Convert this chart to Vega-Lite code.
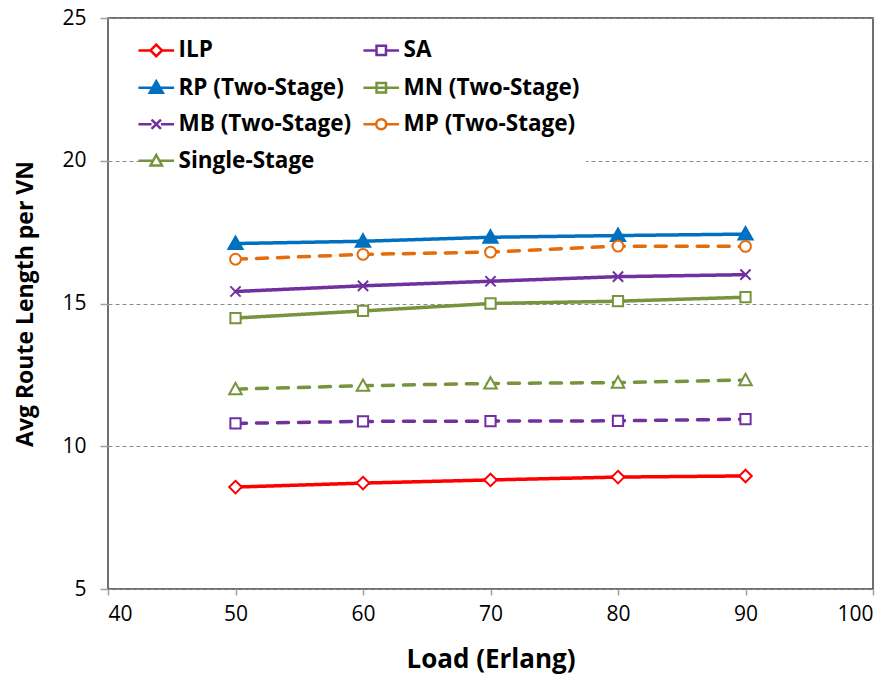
{
  "$schema": "https://vega.github.io/schema/vega-lite/v6.json",
  "width": 765,
  "height": 571,
  "autosize": "none",
  "padding": {"left": 108, "top": 18, "right": 22, "bottom": 91},
  "background": "white",
  "config": {
    "view": {"stroke": "#404040", "strokeWidth": 1.5},
    "font": "Open Sans",
    "legend": {
      "title": null,
      "orient": "none",
      "legendX": 31,
      "legendY": 15,
      "columns": 2,
      "fillColor": "white",
      "padding": 6,
      "rowPadding": 13.5,
      "columnPadding": 6,
      "labelFont": "Open Sans",
      "labelFontSize": 22.5,
      "labelFontWeight": "bold",
      "labelColor": "black",
      "labelOffset": 11,
      "labelLimit": 400,
      "symbolSize": 110,
      "symbolStrokeWidth": 2.5
    }
  },
  "data": {
    "values": [
      {"series": "ILP", "load": 50, "value": 8.57},
      {"series": "ILP", "load": 60, "value": 8.71},
      {"series": "ILP", "load": 70, "value": 8.82},
      {"series": "ILP", "load": 80, "value": 8.92},
      {"series": "ILP", "load": 90, "value": 8.96},
      {"series": "SA", "load": 50, "value": 10.8},
      {"series": "SA", "load": 60, "value": 10.87},
      {"series": "SA", "load": 70, "value": 10.88},
      {"series": "SA", "load": 80, "value": 10.89},
      {"series": "SA", "load": 90, "value": 10.95},
      {"series": "RP (Two-Stage)", "load": 50, "value": 17.1},
      {"series": "RP (Two-Stage)", "load": 60, "value": 17.18},
      {"series": "RP (Two-Stage)", "load": 70, "value": 17.32},
      {"series": "RP (Two-Stage)", "load": 80, "value": 17.38},
      {"series": "RP (Two-Stage)", "load": 90, "value": 17.43},
      {"series": "MN (Two-Stage)", "load": 50, "value": 14.49},
      {"series": "MN (Two-Stage)", "load": 60, "value": 14.74},
      {"series": "MN (Two-Stage)", "load": 70, "value": 15.0},
      {"series": "MN (Two-Stage)", "load": 80, "value": 15.08},
      {"series": "MN (Two-Stage)", "load": 90, "value": 15.22},
      {"series": "MB (Two-Stage)", "load": 50, "value": 15.42},
      {"series": "MB (Two-Stage)", "load": 60, "value": 15.62},
      {"series": "MB (Two-Stage)", "load": 70, "value": 15.78},
      {"series": "MB (Two-Stage)", "load": 80, "value": 15.94},
      {"series": "MB (Two-Stage)", "load": 90, "value": 16.01},
      {"series": "MP (Two-Stage)", "load": 50, "value": 16.55},
      {"series": "MP (Two-Stage)", "load": 60, "value": 16.72},
      {"series": "MP (Two-Stage)", "load": 70, "value": 16.8},
      {"series": "MP (Two-Stage)", "load": 80, "value": 17.01},
      {"series": "MP (Two-Stage)", "load": 90, "value": 17.0},
      {"series": "Single-Stage", "load": 50, "value": 12.0},
      {"series": "Single-Stage", "load": 60, "value": 12.12},
      {"series": "Single-Stage", "load": 70, "value": 12.2},
      {"series": "Single-Stage", "load": 80, "value": 12.23},
      {"series": "Single-Stage", "load": 90, "value": 12.32}
    ]
  },
  "encoding": {
    "x": {
      "field": "load", "type": "quantitative",
      "scale": {"domain": [40, 100], "nice": false, "zero": false},
      "axis": {
        "values": [40, 50, 60, 70, 80, 90, 100],
        "title": "Load (Erlang)",
        "titleFont": "Open Sans", "titleFontSize": 26, "titleFontWeight": "bold", "titleColor": "black",
        "titlePadding": 22,
        "labelFont": "Open Sans", "labelFontSize": 21, "labelColor": "black", "labelPadding": 8,
        "grid": false, "domain": false,
        "tickSize": 6, "tickColor": "#a0a0a0", "tickWidth": 1.5
      }
    },
    "y": {
      "field": "value", "type": "quantitative",
      "scale": {"domain": [5, 25], "nice": false, "zero": false},
      "axis": {
        "values": [5, 10, 15, 20, 25],
        "title": "Avg Route Length per VN",
        "titleFont": "Open Sans", "titleFontSize": 23, "titleFontWeight": "bold", "titleColor": "black",
        "titlePadding": 24,
        "labelFont": "Open Sans", "labelFontSize": 21, "labelColor": "black", "labelPadding": 14,
        "grid": true, "gridColor": "#8c8c8c", "gridDash": [4, 3], "gridWidth": 1,
        "domain": false,
        "tickSize": 8, "tickColor": "#a0a0a0", "tickWidth": 1.5
      }
    }
  },
  "layer": [
    {
      "mark": {"type": "line", "strokeWidth": 3.5, "strokeCap": "round"},
      "encoding": {
        "color": {
          "field": "series", "type": "nominal", "legend": null,
          "scale": {
            "domain": ["ILP", "SA", "RP (Two-Stage)", "MN (Two-Stage)", "MB (Two-Stage)", "MP (Two-Stage)", "Single-Stage"],
            "range": ["#ff0000", "#7030a0", "#0070c0", "#77933c", "#7030a0", "#e46c0a", "#77933c"]
          }
        },
        "strokeDash": {
          "field": "series", "type": "nominal", "legend": null,
          "scale": {
            "domain": ["ILP", "SA", "RP (Two-Stage)", "MN (Two-Stage)", "MB (Two-Stage)", "MP (Two-Stage)", "Single-Stage"],
            "range": [[1, 0], [11, 10], [1, 0], [1, 0], [1, 0], [11, 10], [11, 10]]
          }
        }
      }
    },
    {
      "mark": {"type": "point", "filled": true, "opacity": 1, "size": 130, "strokeWidth": 2},
      "encoding": {
        "shape": {
          "field": "series", "type": "nominal", "legend": null,
          "scale": {
            "domain": ["ILP", "SA", "RP (Two-Stage)", "MN (Two-Stage)", "MB (Two-Stage)", "MP (Two-Stage)", "Single-Stage"],
            "range": [
              "M0,-1.1L1.1,0L0,1.1L-1.1,0Z",
              "M-0.9,-0.9H0.9V0.9H-0.9Z",
              "M0,-1.25L1.25,0.95L-1.25,0.95Z",
              "M-0.9,-0.9H0.9V0.9H-0.9Z",
              "M-0.9,-0.9L0.9,0.9M-0.9,0.9L0.9,-0.9",
              "M0.95,0A0.95,0.95 0 1,1 -0.95,0A0.95,0.95 0 1,1 0.95,0Z",
              "M0,-1.1L1.1,0.9L-1.1,0.9Z"
            ]
          }
        },
        "stroke": {
          "field": "series", "type": "nominal", "legend": null,
          "scale": {
            "domain": ["ILP", "SA", "RP (Two-Stage)", "MN (Two-Stage)", "MB (Two-Stage)", "MP (Two-Stage)", "Single-Stage"],
            "range": ["#ff0000", "#7030a0", "#0070c0", "#77933c", "#7030a0", "#e46c0a", "#77933c"]
          }
        },
        "fill": {
          "field": "series", "type": "nominal", "legend": null,
          "scale": {
            "domain": ["ILP", "SA", "RP (Two-Stage)", "MN (Two-Stage)", "MB (Two-Stage)", "MP (Two-Stage)", "Single-Stage"],
            "range": ["white", "white", "#0070c0", "white", "white", "white", "white"]
          }
        }
      }
    },
    {
      "transform": [{"filter": "datum.load > 1000"}],
      "mark": {"type": "point", "filled": true, "opacity": 1, "size": 110, "strokeWidth": 2.5},
      "encoding": {
        "shape": {
          "field": "series", "type": "nominal",
          "scale": {
            "domain": ["ILP", "RP (Two-Stage)", "MB (Two-Stage)", "Single-Stage", "SA", "MN (Two-Stage)", "MP (Two-Stage)"],
            "range": [
              "M-3.4,0H-1.1M1.1,0H3.4M0,-1.1L1.1,0L0,1.1L-1.1,0Z",
              "M-3.4,0H3.4M0,-1.25L1.25,0.95L-1.25,0.95Z",
              "M-3.4,0H-0.9M0.9,0H3.4M-0.9,-0.9L0.9,0.9M-0.9,0.9L0.9,-0.9",
              "M-3.4,0H-0.75M0.75,0H3.4M0,-1.1L1.1,0.9L-1.1,0.9Z",
              "M-3.4,0H-0.9M0.9,0H3.4M-0.9,-0.9H0.9V0.9H-0.9Z",
              "M-3.4,0H3.4M-0.9,-0.9H0.9V0.9H-0.9Z",
              "M-3.4,0H-0.95M0.95,0H3.4M0.95,0A0.95,0.95 0 1,1 -0.95,0A0.95,0.95 0 1,1 0.95,0Z"
            ]
          }
        },
        "stroke": {
          "field": "series", "type": "nominal",
          "scale": {
            "domain": ["ILP", "RP (Two-Stage)", "MB (Two-Stage)", "Single-Stage", "SA", "MN (Two-Stage)", "MP (Two-Stage)"],
            "range": ["#ff0000", "#0070c0", "#7030a0", "#77933c", "#7030a0", "#77933c", "#e46c0a"]
          }
        },
        "fill": {
          "field": "series", "type": "nominal",
          "scale": {
            "domain": ["ILP", "RP (Two-Stage)", "MB (Two-Stage)", "Single-Stage", "SA", "MN (Two-Stage)", "MP (Two-Stage)"],
            "range": ["white", "#0070c0", "white", "white", "white", "white", "white"]
          }
        }
      }
    }
  ],
  "resolve": {
    "scale": {"shape": "independent", "stroke": "independent", "fill": "independent"},
    "legend": {"shape": "independent", "stroke": "independent", "fill": "independent"}
  }
}
